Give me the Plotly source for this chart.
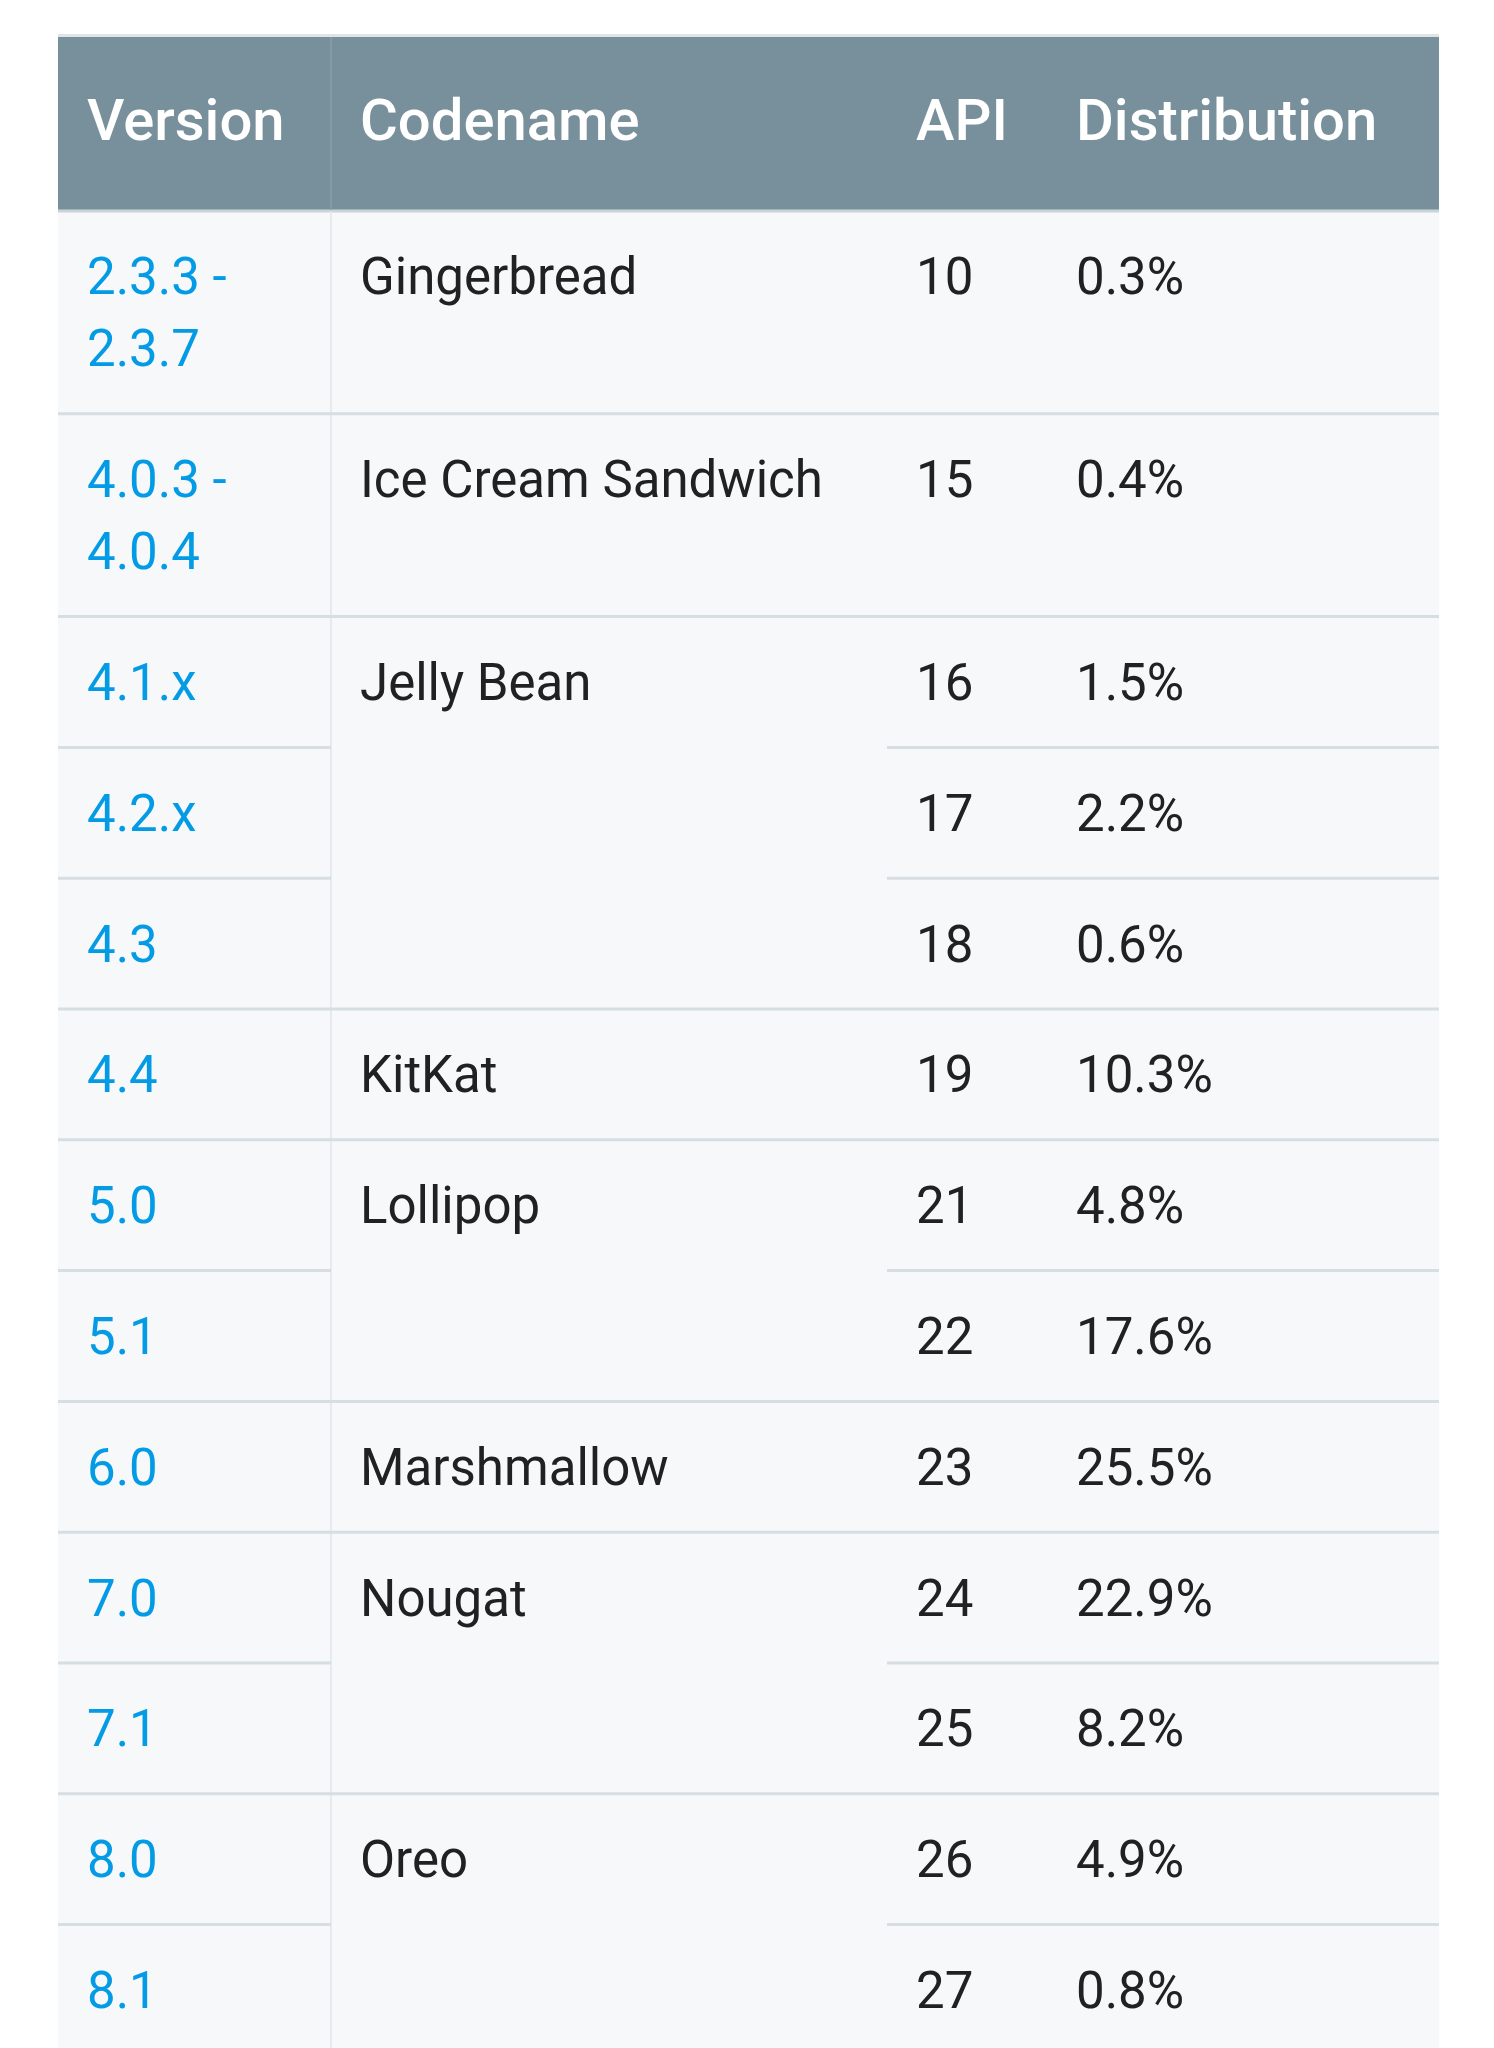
import plotly.graph_objects as go

# ---- table data ----
HEADERS = ["Version", "Codename", "API", "Distribution"]
VERSIONS = ["2.3.3 - 2.3.7", "4.0.3 - 4.0.4", "4.1.x", "4.2.x", "4.3", "4.4",
            "5.0", "5.1", "6.0", "7.0", "7.1", "8.0", "8.1"]
CODENAMES = ["Gingerbread", "Ice Cream Sandwich", "Jelly Bean", "Jelly Bean", "Jelly Bean",
             "KitKat", "Lollipop", "Lollipop", "Marshmallow", "Nougat", "Nougat", "Oreo", "Oreo"]
API_LEVELS = [10, 15, 16, 17, 18, 19, 21, 22, 23, 24, 25, 26, 27]
DISTRIBUTION = [0.3, 0.4, 1.5, 2.2, 0.6, 10.3, 4.8, 17.6, 25.5, 22.9, 8.2, 4.9, 0.8]

# ---- layout (page pixels) ----
W, H = 1494, 2048
TABLE_L, TABLE_R = 58, 1439
COL_DIV = 331          # line between Version and Codename
SUB_LINE_L = 887       # inner row lines of merged groups start here
TEXT_X = [87, 360, 916, 1076]
HEAD_TOP, HEAD_BOT = 37, 210
BODY_TOP = 211
ROW_BASE, LINE_PITCH = 58.8, 72     # row height = base + pitch * lines
FIRST_BASELINE = 85                 # baseline offset from row top
BODY_FS, HEAD_FS = 51, 58

HEAD_BG = "#78909c"
BODY_BG = "#f7f8fa"
LINE_C = "#d6dee2"
VDIV_C = "#e1e6e9"
BLUE = "#039be5"
INK = "#212121"
FONT = "Roboto"


def wrap_version(v):
    # ranges wrap after the dash in the narrow column
    if " - " in v:
        a, b = v.split(" - ")
        return [a + " -", b]
    return [v]


version_lines = [wrap_version(v) for v in VERSIONS]
row_tops = []
y = BODY_TOP
for lines in version_lines:
    row_tops.append(y)
    y += ROW_BASE + LINE_PITCH * len(lines)
row_tops.append(y)


def cap_mid(baseline, fs):
    return baseline - 0.28 * fs


shapes = []
# header block
shapes.append(dict(type="rect", xref="x", yref="y", x0=TABLE_L, x1=TABLE_R, y0=HEAD_TOP - 3, y1=HEAD_TOP,
                   fillcolor="#dfe4e7", line_width=0, layer="below"))
shapes.append(dict(type="rect", xref="x", yref="y", x0=TABLE_L, x1=TABLE_R, y0=HEAD_TOP, y1=HEAD_BOT,
                   fillcolor=HEAD_BG, line_width=0, layer="below"))
shapes.append(dict(type="rect", xref="x", yref="y", x0=TABLE_L, x1=TABLE_R, y0=BODY_TOP, y1=H + 10,
                   fillcolor=BODY_BG, line_width=0, layer="below"))
shapes.append(dict(type="line", xref="x", yref="y", x0=TABLE_L, x1=TABLE_R, y0=HEAD_BOT + 1, y1=HEAD_BOT + 1,
                   line=dict(color="#c9d3d8", width=3)))
# vertical divider
shapes.append(dict(type="line", xref="x", yref="y", x0=COL_DIV, x1=COL_DIV, y0=HEAD_TOP, y1=HEAD_BOT,
                   line=dict(color="#8a9ea8", width=1.5)))
shapes.append(dict(type="line", xref="x", yref="y", x0=COL_DIV, x1=COL_DIV, y0=BODY_TOP, y1=H + 10,
                   line=dict(color=VDIV_C, width=1.5)))
# row separators
for i in range(1, len(VERSIONS)):
    yy = row_tops[i]
    if CODENAMES[i] != CODENAMES[i - 1]:
        segs = [(TABLE_L, TABLE_R)]
    else:
        segs = [(TABLE_L, COL_DIV), (SUB_LINE_L, TABLE_R)]
    for x0, x1 in segs:
        shapes.append(dict(type="line", xref="x", yref="y", x0=x0, x1=x1, y0=yy, y1=yy,
                           line=dict(color=LINE_C, width=3)))

fig = go.Figure()

# header texts
head_y = cap_mid(142, HEAD_FS)
fig.add_trace(go.Scatter(
    x=TEXT_X, y=[head_y] * len(HEADERS), text=HEADERS, mode="text",
    textposition="middle right", hoverinfo="skip",
    textfont=dict(family=FONT, size=HEAD_FS, color="white", weight=500),
))

# version column (may wrap to two lines)
vx, vy, vt = [], [], []
for top, lines in zip(row_tops, version_lines):
    for k, ln in enumerate(lines):
        vx.append(TEXT_X[0])
        vy.append(cap_mid(top + FIRST_BASELINE + k * LINE_PITCH, BODY_FS))
        vt.append(ln)
fig.add_trace(go.Scatter(x=vx, y=vy, text=vt, mode="text", textposition="middle right",
                         hoverinfo="skip", textfont=dict(family=FONT, size=BODY_FS, color=BLUE)))

# codename: one label per merged group
cx, cy, ct = [], [], []
for i, name in enumerate(CODENAMES):
    if i == 0 or name != CODENAMES[i - 1]:
        cx.append(TEXT_X[1])
        cy.append(cap_mid(row_tops[i] + FIRST_BASELINE, BODY_FS))
        ct.append(name)
fig.add_trace(go.Scatter(x=cx, y=cy, text=ct, mode="text", textposition="middle right",
                         hoverinfo="skip", textfont=dict(family=FONT, size=BODY_FS, color=INK)))

row_y = [cap_mid(t + FIRST_BASELINE, BODY_FS) for t in row_tops[:-1]]
fig.add_trace(go.Scatter(x=[TEXT_X[2]] * len(API_LEVELS), y=row_y, text=[str(a) for a in API_LEVELS],
                         mode="text", textposition="middle right", hoverinfo="skip",
                         textfont=dict(family=FONT, size=BODY_FS, color=INK)))
fig.add_trace(go.Scatter(x=[TEXT_X[3]] * len(DISTRIBUTION), y=row_y,
                         text=[f"{d:.1f}%" for d in DISTRIBUTION],
                         mode="text", textposition="middle right", hoverinfo="skip",
                         textfont=dict(family=FONT, size=BODY_FS, color=INK)))

fig.update_traces(cliponaxis=False)
fig.update_layout(
    width=W, height=H, margin=dict(l=0, r=0, t=0, b=0),
    paper_bgcolor="white", plot_bgcolor="white", showlegend=False,
    shapes=shapes,
    xaxis=dict(range=[0, W], visible=False, fixedrange=True),
    yaxis=dict(range=[H, 0], visible=False, fixedrange=True),
)

fig.write_html("out.html", config={"displayModeBar": False},
               post_script="document.body.style.margin='0';")
